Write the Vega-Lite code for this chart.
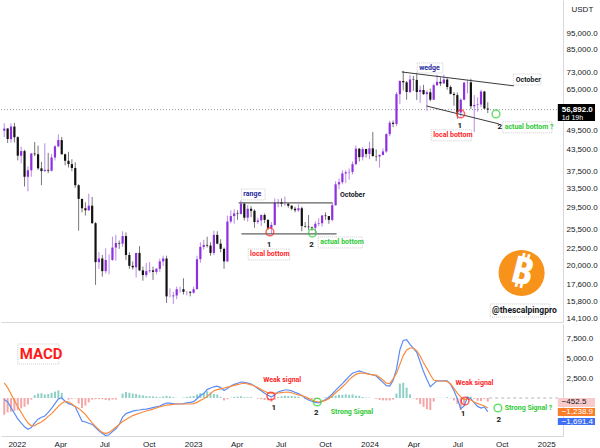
{
"$schema": "https://vega.github.io/schema/vega-lite/v6.json",
"padding": 0,
"background": "white",
"spacing": 1,
"config": {"view": {"stroke": null}, "font": "Liberation Sans", "axis": {"labelFont": "Liberation Sans"}},
"datasets": {
"btc": [
{"d":"2021-12-06","o":49400,"h":51900,"l":47300,"c":50100,"m":-200,"s":1900,"hi":-2100},
{"d":"2021-12-13","o":50100,"h":50200,"l":45500,"c":46700,"m":-500,"s":1300,"hi":-1800},
{"d":"2021-12-20","o":46700,"h":51900,"l":45600,"c":50800,"m":-1200,"s":500,"hi":-1700},
{"d":"2021-12-27","o":50800,"h":52100,"l":45700,"c":47300,"m":-1900,"s":-300,"hi":-1600},
{"d":"2022-01-03","o":47300,"h":47600,"l":40500,"c":41800,"m":-2600,"s":-1100,"hi":-1500},
{"d":"2022-01-10","o":41800,"h":44400,"l":39700,"c":43100,"m":-3100,"s":-1800,"hi":-1300},
{"d":"2022-01-17","o":43100,"h":43500,"l":34000,"c":36300,"m":-3600,"s":-2500,"hi":-1100},
{"d":"2022-01-24","o":36300,"h":38900,"l":32900,"c":37900,"m":-3900,"s":-3100,"hi":-800},
{"d":"2022-01-31","o":37900,"h":42600,"l":36300,"c":42400,"m":-3700,"s":-3500,"hi":-200},
{"d":"2022-02-07","o":42400,"h":45800,"l":41700,"c":42200,"m":-3100,"s":-3450,"hi":350},
{"d":"2022-02-14","o":42200,"h":44700,"l":38000,"c":38400,"m":-2650,"s":-3200,"hi":550},
{"d":"2022-02-21","o":38400,"h":40100,"l":34300,"c":37700,"m":-2400,"s":-3000,"hi":600},
{"d":"2022-02-28","o":37700,"h":45400,"l":37500,"c":38000,"m":-2250,"s":-2700,"hi":450},
{"d":"2022-03-07","o":38000,"h":42600,"l":37200,"c":37800,"m":-1800,"s":-2300,"hi":500},
{"d":"2022-03-14","o":37800,"h":42300,"l":37600,"c":41300,"m":-1300,"s":-1950,"hi":650},
{"d":"2022-03-21","o":41300,"h":44800,"l":40500,"c":44500,"m":-700,"s":-1500,"hi":800},
{"d":"2022-03-28","o":44500,"h":48200,"l":44200,"c":46400,"m":-100,"s":-1050,"hi":950},
{"d":"2022-04-04","o":46400,"h":47400,"l":42100,"c":42200,"m":0,"s":-650,"hi":650},
{"d":"2022-04-11","o":42200,"h":42400,"l":39200,"c":40400,"m":-400,"s":-420,"hi":20},
{"d":"2022-04-18","o":40400,"h":42900,"l":38600,"c":39500,"m":-700,"s":-500,"hi":-200},
{"d":"2022-04-25","o":39500,"h":40800,"l":37700,"c":38500,"m":-850,"s":-750,"hi":-100},
{"d":"2022-05-02","o":38500,"h":40000,"l":33700,"c":34300,"m":-1100,"s":-1050,"hi":-50},
{"d":"2022-05-09","o":34300,"h":34500,"l":25300,"c":31300,"m":-2000,"s":-1300,"hi":-700},
{"d":"2022-05-16","o":31300,"h":31300,"l":28600,"c":29400,"m":-2900,"s":-1650,"hi":-1250},
{"d":"2022-05-23","o":29400,"h":30600,"l":28000,"c":29000,"m":-3000,"s":-2050,"hi":-950},
{"d":"2022-05-30","o":29000,"h":32400,"l":28900,"c":29900,"m":-3150,"s":-2600,"hi":-550},
{"d":"2022-06-06","o":29900,"h":31700,"l":26500,"c":26600,"m":-3300,"s":-3100,"hi":-200},
{"d":"2022-06-13","o":26600,"h":26800,"l":17600,"c":20500,"m":-3700,"s":-3550,"hi":-150},
{"d":"2022-06-20","o":20500,"h":21900,"l":19600,"c":21000,"m":-4100,"s":-3950,"hi":-150},
{"d":"2022-06-27","o":21000,"h":21500,"l":18600,"c":19300,"m":-4450,"s":-4300,"hi":-150},
{"d":"2022-07-04","o":19300,"h":22500,"l":19000,"c":20800,"m":-4700,"s":-4450,"hi":-250},
{"d":"2022-07-11","o":20800,"h":21600,"l":18900,"c":20800,"m":-4600,"s":-4300,"hi":-300},
{"d":"2022-07-18","o":20800,"h":24300,"l":20700,"c":22600,"m":-4200,"s":-4000,"hi":-200},
{"d":"2022-07-25","o":22600,"h":24600,"l":20700,"c":23300,"m":-3850,"s":-3650,"hi":-200},
{"d":"2022-08-01","o":23300,"h":23700,"l":22400,"c":23200,"m":-3300,"s":-3300,"hi":0},
{"d":"2022-08-08","o":23200,"h":25200,"l":22700,"c":24400,"m":-2400,"s":-2950,"hi":550},
{"d":"2022-08-15","o":24400,"h":25000,"l":20800,"c":21500,"m":-1950,"s":-2700,"hi":750},
{"d":"2022-08-22","o":21500,"h":21900,"l":19600,"c":20000,"m":-1800,"s":-2450,"hi":650},
{"d":"2022-08-29","o":20000,"h":20600,"l":19500,"c":19800,"m":-1650,"s":-2200,"hi":550},
{"d":"2022-09-05","o":19800,"h":21800,"l":18500,"c":21800,"m":-1550,"s":-2050,"hi":500},
{"d":"2022-09-12","o":21800,"h":22800,"l":19300,"c":19400,"m":-1500,"s":-1900,"hi":400},
{"d":"2022-09-19","o":19400,"h":19900,"l":18100,"c":18800,"m":-1420,"s":-1750,"hi":330},
{"d":"2022-09-26","o":18800,"h":20400,"l":18500,"c":19300,"m":-1380,"s":-1620,"hi":240},
{"d":"2022-10-03","o":19300,"h":20500,"l":19100,"c":19400,"m":-1300,"s":-1520,"hi":220},
{"d":"2022-10-10","o":19400,"h":19900,"l":18200,"c":19200,"m":-1200,"s":-1400,"hi":200},
{"d":"2022-10-17","o":19200,"h":19700,"l":18900,"c":19600,"m":-1100,"s":-1250,"hi":150},
{"d":"2022-10-24","o":19600,"h":21000,"l":19200,"c":20600,"m":-1000,"s":-1100,"hi":100},
{"d":"2022-10-31","o":20600,"h":21400,"l":20000,"c":21000,"m":-800,"s":-1000,"hi":200},
{"d":"2022-11-07","o":21000,"h":21400,"l":15600,"c":16300,"m":-625,"s":-900,"hi":275},
{"d":"2022-11-14","o":16300,"h":17200,"l":16200,"c":16300,"m":-650,"s":-850,"hi":200},
{"d":"2022-11-21","o":16300,"h":16800,"l":15500,"c":16400,"m":-700,"s":-800,"hi":100},
{"d":"2022-11-28","o":16400,"h":17400,"l":16000,"c":17100,"m":-730,"s":-750,"hi":20},
{"d":"2022-12-05","o":17100,"h":17400,"l":16700,"c":17100,"m":-750,"s":-750,"hi":0},
{"d":"2022-12-12","o":17100,"h":18400,"l":16500,"c":16800,"m":-700,"s":-750,"hi":50},
{"d":"2022-12-19","o":16800,"h":16900,"l":16400,"c":16800,"m":-620,"s":-750,"hi":130},
{"d":"2022-12-26","o":16800,"h":16900,"l":16300,"c":16700,"m":-550,"s":-750,"hi":200},
{"d":"2023-01-02","o":16700,"h":17400,"l":16600,"c":17100,"m":-450,"s":-700,"hi":250},
{"d":"2023-01-09","o":17100,"h":21400,"l":17100,"c":20900,"m":-100,"s":-550,"hi":450},
{"d":"2023-01-16","o":20900,"h":23400,"l":20400,"c":22700,"m":300,"s":-300,"hi":600},
{"d":"2023-01-23","o":22700,"h":23800,"l":22300,"c":23000,"m":550,"s":-100,"hi":650},
{"d":"2023-01-30","o":23000,"h":24300,"l":22600,"c":22900,"m":1050,"s":200,"hi":850},
{"d":"2023-02-06","o":22900,"h":23400,"l":21400,"c":21800,"m":1250,"s":550,"hi":700},
{"d":"2023-02-13","o":21800,"h":25300,"l":21500,"c":24600,"m":1400,"s":900,"hi":500},
{"d":"2023-02-20","o":24600,"h":25200,"l":23100,"c":23200,"m":1480,"s":1050,"hi":430},
{"d":"2023-02-27","o":23200,"h":23900,"l":21900,"c":22400,"m":1300,"s":1150,"hi":150},
{"d":"2023-03-06","o":22400,"h":22600,"l":19600,"c":20600,"m":950,"s":1250,"hi":-300},
{"d":"2023-03-13","o":20600,"h":28000,"l":20500,"c":26900,"m":1200,"s":1350,"hi":-150},
{"d":"2023-03-20","o":26900,"h":29000,"l":26600,"c":27900,"m":1500,"s":1450,"hi":50},
{"d":"2023-03-27","o":27900,"h":29200,"l":26500,"c":28400,"m":1700,"s":1580,"hi":120},
{"d":"2023-04-03","o":28400,"h":29000,"l":27200,"c":28300,"m":1850,"s":1680,"hi":170},
{"d":"2023-04-10","o":28300,"h":31000,"l":28200,"c":30300,"m":2000,"s":1780,"hi":220},
{"d":"2023-04-17","o":30300,"h":30500,"l":27100,"c":27600,"m":1950,"s":1850,"hi":100},
{"d":"2023-04-24","o":27600,"h":30000,"l":26900,"c":29300,"m":1850,"s":1750,"hi":100},
{"d":"2023-05-01","o":29300,"h":29800,"l":27700,"c":28900,"m":1750,"s":1650,"hi":100},
{"d":"2023-05-08","o":28900,"h":29200,"l":25800,"c":26800,"m":1500,"s":1500,"hi":0},
{"d":"2023-05-15","o":26800,"h":27600,"l":26500,"c":27100,"m":1200,"s":1300,"hi":-100},
{"d":"2023-05-22","o":27100,"h":28200,"l":26100,"c":28100,"m":900,"s":1050,"hi":-150},
{"d":"2023-05-29","o":28100,"h":28400,"l":26600,"c":27200,"m":600,"s":850,"hi":-250},
{"d":"2023-06-05","o":27200,"h":27300,"l":25400,"c":25800,"m":350,"s":650,"hi":-300},
{"d":"2023-06-12","o":25800,"h":26800,"l":24800,"c":26300,"m":125,"s":600,"hi":-475},
{"d":"2023-06-19","o":26300,"h":31400,"l":26200,"c":30500,"m":400,"s":600,"hi":-200},
{"d":"2023-06-26","o":30500,"h":31300,"l":29600,"c":30600,"m":750,"s":625,"hi":125},
{"d":"2023-07-03","o":30600,"h":31400,"l":29700,"c":30300,"m":900,"s":680,"hi":220},
{"d":"2023-07-10","o":30300,"h":31800,"l":29900,"c":30300,"m":1000,"s":720,"hi":280},
{"d":"2023-07-17","o":30300,"h":30400,"l":29500,"c":29900,"m":1000,"s":750,"hi":250},
{"d":"2023-07-24","o":29900,"h":30000,"l":29000,"c":29300,"m":900,"s":650,"hi":250},
{"d":"2023-07-31","o":29300,"h":29700,"l":28600,"c":29000,"m":700,"s":500,"hi":200},
{"d":"2023-08-07","o":29000,"h":30200,"l":28700,"c":29400,"m":550,"s":380,"hi":170},
{"d":"2023-08-14","o":29400,"h":29700,"l":25200,"c":26100,"m":300,"s":300,"hi":0},
{"d":"2023-08-21","o":26100,"h":26800,"l":25800,"c":26000,"m":0,"s":150,"hi":-150},
{"d":"2023-08-28","o":26000,"h":28100,"l":25400,"c":25900,"m":-250,"s":-50,"hi":-200},
{"d":"2023-09-04","o":25900,"h":26000,"l":25300,"c":25800,"m":-400,"s":-250,"hi":-150},
{"d":"2023-09-11","o":25800,"h":26900,"l":24900,"c":26500,"m":-550,"s":-420,"hi":-130},
{"d":"2023-09-18","o":26500,"h":27500,"l":26100,"c":26600,"m":-600,"s":-500,"hi":-100},
{"d":"2023-09-25","o":26600,"h":28100,"l":26000,"c":28000,"m":-400,"s":-420,"hi":20},
{"d":"2023-10-02","o":28000,"h":28600,"l":27200,"c":27900,"m":-200,"s":-300,"hi":100},
{"d":"2023-10-09","o":27900,"h":27900,"l":26500,"c":27200,"m":100,"s":-80,"hi":180},
{"d":"2023-10-16","o":27200,"h":30400,"l":26900,"c":30000,"m":500,"s":250,"hi":250},
{"d":"2023-10-23","o":30000,"h":35200,"l":29900,"c":34500,"m":950,"s":650,"hi":300},
{"d":"2023-10-30","o":34500,"h":35900,"l":33400,"c":35000,"m":1400,"s":1000,"hi":400},
{"d":"2023-11-06","o":35000,"h":37900,"l":34500,"c":37100,"m":1800,"s":1400,"hi":400},
{"d":"2023-11-13","o":37100,"h":37900,"l":34800,"c":37400,"m":2250,"s":1800,"hi":450},
{"d":"2023-11-20","o":37400,"h":38400,"l":35600,"c":37500,"m":2700,"s":2300,"hi":400},
{"d":"2023-11-27","o":37500,"h":40200,"l":36900,"c":39500,"m":3100,"s":2650,"hi":450},
{"d":"2023-12-04","o":39500,"h":44700,"l":39200,"c":43800,"m":3250,"s":2950,"hi":300},
{"d":"2023-12-11","o":43800,"h":44000,"l":40200,"c":41400,"m":3375,"s":3100,"hi":275},
{"d":"2023-12-18","o":41400,"h":44300,"l":40500,"c":43700,"m":3250,"s":3125,"hi":125},
{"d":"2023-12-25","o":43700,"h":43800,"l":41300,"c":42300,"m":3100,"s":3050,"hi":50},
{"d":"2024-01-01","o":42300,"h":45900,"l":40800,"c":43900,"m":3000,"s":2950,"hi":50},
{"d":"2024-01-08","o":43900,"h":49000,"l":41500,"c":41700,"m":2900,"s":2900,"hi":0},
{"d":"2024-01-15","o":41700,"h":43600,"l":40300,"c":41600,"m":2750,"s":2850,"hi":-100},
{"d":"2024-01-22","o":41600,"h":42200,"l":38600,"c":42000,"m":2350,"s":2600,"hi":-250},
{"d":"2024-01-29","o":42000,"h":43900,"l":41900,"c":43000,"m":1950,"s":2250,"hi":-300},
{"d":"2024-02-05","o":43000,"h":48600,"l":42600,"c":48300,"m":1550,"s":1850,"hi":-300},
{"d":"2024-02-12","o":48300,"h":52800,"l":47600,"c":52100,"m":1500,"s":1800,"hi":-300},
{"d":"2024-02-19","o":52100,"h":52900,"l":50600,"c":51700,"m":2200,"s":2400,"hi":-200},
{"d":"2024-02-26","o":51700,"h":64000,"l":50900,"c":63100,"m":3600,"s":3050,"hi":550},
{"d":"2024-03-04","o":63100,"h":69200,"l":59000,"c":68900,"m":6000,"s":4200,"hi":1800},
{"d":"2024-03-11","o":68900,"h":73800,"l":64700,"c":68300,"m":7200,"s":5300,"hi":1900},
{"d":"2024-03-18","o":68300,"h":68900,"l":60800,"c":64000,"m":7300,"s":6000,"hi":1300},
{"d":"2024-03-25","o":64000,"h":71700,"l":63600,"c":69600,"m":6700,"s":6250,"hi":450},
{"d":"2024-04-01","o":69600,"h":71300,"l":64500,"c":69400,"m":6200,"s":6250,"hi":-50},
{"d":"2024-04-08","o":69400,"h":72800,"l":60700,"c":64000,"m":5700,"s":5900,"hi":-200},
{"d":"2024-04-15","o":64000,"h":66800,"l":59600,"c":64900,"m":4500,"s":5250,"hi":-750},
{"d":"2024-04-22","o":64900,"h":67200,"l":62800,"c":63100,"m":3300,"s":4400,"hi":-1100},
{"d":"2024-04-29","o":63100,"h":64700,"l":56500,"c":63900,"m":2300,"s":3700,"hi":-1400},
{"d":"2024-05-06","o":63900,"h":65500,"l":60200,"c":60800,"m":1400,"s":2900,"hi":-1500},
{"d":"2024-05-13","o":60800,"h":67700,"l":60700,"c":67000,"m":1800,"s":2250,"hi":-450},
{"d":"2024-05-20","o":67000,"h":71900,"l":66600,"c":68500,"m":2150,"s":2125,"hi":25},
{"d":"2024-05-27","o":68500,"h":70600,"l":66600,"c":67800,"m":2150,"s":2125,"hi":25},
{"d":"2024-06-03","o":67800,"h":71900,"l":67600,"c":69600,"m":2150,"s":2125,"hi":25},
{"d":"2024-06-10","o":69600,"h":70200,"l":65000,"c":66200,"m":2150,"s":2050,"hi":100},
{"d":"2024-06-17","o":66200,"h":66900,"l":63000,"c":63200,"m":1700,"s":1750,"hi":-50},
{"d":"2024-06-24","o":63200,"h":64000,"l":58400,"c":62700,"m":900,"s":1200,"hi":-300},
{"d":"2024-07-01","o":62700,"h":63800,"l":53500,"c":55800,"m":-100,"s":600,"hi":-700},
{"d":"2024-07-08","o":55800,"h":61400,"l":54300,"c":60800,"m":-1350,"s":150,"hi":-1500},
{"d":"2024-07-15","o":60800,"h":68300,"l":60600,"c":68200,"m":-1000,"s":-200,"hi":-800},
{"d":"2024-07-22","o":68200,"h":69400,"l":63400,"c":68300,"m":100,"s":-100,"hi":200},
{"d":"2024-07-29","o":68300,"h":70000,"l":57100,"c":58200,"m":-100,"s":-250,"hi":150},
{"d":"2024-08-05","o":58200,"h":62700,"l":49000,"c":58700,"m":-600,"s":-500,"hi":-100},
{"d":"2024-08-12","o":58700,"h":61800,"l":56100,"c":58900,"m":-1050,"s":-700,"hi":-350},
{"d":"2024-08-19","o":58900,"h":65000,"l":57800,"c":64200,"m":-1250,"s":-850,"hi":-400},
{"d":"2024-08-26","o":64200,"h":64500,"l":57200,"c":57300,"m":-1125,"s":-1000,"hi":-125},
{"d":"2024-09-02","o":57300,"h":59800,"l":55600,"c":56892,"m":-1691.4,"s":-1238.9,"hi":-452.5}
]
},
"vconcat": [
{
"width": 562,
"height": 322,
"layer": [
{"data": {"values": [{"p": 56892}]}, "mark": {"type": "rule", "color": "#9598a1", "strokeDash": [1, 2], "strokeWidth": 1}, "encoding": {"y": {"field": "p", "type": "quantitative", "scale": {"type": "log"}}}},
{"data": {"name": "btc"}, "mark": {"type": "rule", "strokeWidth": 1, "clip": true},
 "encoding": {
  "x": {"field": "d", "type": "temporal", "scale": {"domain": [{"year": 2021, "month": 12, "date": 9, "hours": 15}, {"year": 2025, "month": 1, "date": 25, "hours": 9}], "nice": false},
        "axis": {"title": null, "labels": false, "ticks": false, "grid": false, "domain": true, "domainColor": "#d6d8de"}},
  "y": {"field": "l", "type": "quantitative", "scale": {"type": "log", "domain": [13730, 118500], "nice": false},
        "axis": {"orient": "right", "title": "USDT", "titleAngle": 0, "titleAlign": "left", "titleBaseline": "middle", "titleX": 8, "titleY": 9, "titleFontSize": 8, "titleFontWeight": "normal", "titleColor": "#131722", "values": [95000, 85000, 73000, 65000, 49500, 43500, 37500, 33500, 29500, 25500, 22500, 20000, 17600, 15800, 14100], "format": ",.1f", "labelFontSize": 8, "labelColor": "#131722", "ticks": false, "labelPadding": 3, "grid": false, "domainColor": "#d6d8de"}},
  "y2": {"field": "h"},
  "color": {"condition": {"test": "datum.c >= datum.o", "value": "#b98ae8"}, "value": "#777777"}
 }},
{"data": {"name": "btc"}, "mark": {"type": "bar", "width": 2.2, "clip": true},
 "encoding": {
  "x": {"field": "d", "type": "temporal"},
  "y": {"field": "o", "type": "quantitative", "scale": {"type": "log"}},
  "y2": {"field": "c"},
  "color": {"condition": {"test": "datum.c >= datum.o", "value": "#8e2fe0"}, "value": "#121212"}
 }},
{"data": {"values": [
  {"d1": "2023-04-05", "d2": "2023-10-17", "p1": 30470, "p2": 30470},
  {"d1": "2023-04-11", "d2": "2023-10-25", "p1": 24760, "p2": 24760},
  {"d1": "2024-03-08", "d2": "2024-10-26", "p1": 73200, "p2": 66700},
  {"d1": "2024-04-28", "d2": "2024-09-25", "p1": 58300, "p2": 51700}]},
 "mark": {"type": "rule", "color": "#3a3a3a", "strokeWidth": 1},
 "encoding": {"x": {"field": "d1", "type": "temporal"}, "x2": {"field": "d2"}, "y": {"field": "p1", "type": "quantitative", "scale": {"type": "log"}}, "y2": {"field": "p2"}}},
{"data": {"values": [
  {"d1": "2023-04-11", "d2": "2023-05-30", "p1": 33460, "p2": 31090},
  {"d1": "2023-04-25", "d2": "2023-07-20", "p1": 22380, "p2": 20790},
  {"d1": "2023-09-17", "d2": "2023-12-17", "p1": 24270, "p2": 22540},
  {"d1": "2024-04-09", "d2": "2024-06-01", "p1": 77750, "p2": 72720},
  {"d1": "2024-10-25", "d2": "2024-12-21", "p1": 72230, "p2": 67100},
  {"d1": "2024-05-08", "d2": "2024-07-30", "p1": 49700, "p2": 46170},
  {"d1": "2024-10-03", "d2": "2025-01-13", "p1": 52440, "p2": 48710},
  {"d1": "2024-09-07", "d2": "2025-01-09", "p1": 15490, "p2": 14200}]},
 "mark": {"type": "rect", "filled": false, "color": "#c2c2c2", "strokeDash": [1, 1], "strokeWidth": 0.8},
 "encoding": {"x": {"field": "d1", "type": "temporal"}, "x2": {"field": "d2"}, "y": {"field": "p1", "type": "quantitative", "scale": {"type": "log"}}, "y2": {"field": "p2"}}},
{"data": {"values": [{"d": "2023-06-09", "p": 25090}, {"d": "2024-07-08", "p": 55260}]},
 "mark": {"type": "point", "shape": "circle", "filled": false, "color": "#ff1f1f", "strokeWidth": 1.5, "size": 60},
 "encoding": {"x": {"field": "d", "type": "temporal"}, "y": {"field": "p", "type": "quantitative", "scale": {"type": "log"}}}},
{"data": {"values": [{"d": "2023-09-05", "p": 24920}, {"d": "2024-09-19", "p": 55260}]},
 "mark": {"type": "point", "shape": "circle", "filled": false, "color": "#28d22e", "strokeWidth": 1.5, "size": 60},
 "encoding": {"x": {"field": "d", "type": "temporal"}, "y": {"field": "p", "type": "quantitative", "scale": {"type": "log"}}}},
{"data": {"values": [{"d": "2023-04-15", "p": 32350, "t": "range"}, {"d": "2024-04-13", "p": 75200, "t": "wedge"}]},
 "mark": {"type": "text", "color": "#1f2a9c", "font": "Roboto, Liberation Sans, sans-serif", "fontWeight": "bold", "fontSize": 7, "align": "left", "baseline": "middle"},
 "encoding": {"x": {"field": "d", "type": "temporal"}, "y": {"field": "p", "type": "quantitative", "scale": {"type": "log"}}, "text": {"field": "t"}}},
{"data": {"values": [{"d": "2023-11-01", "p": 32150, "t": "October"}, {"d": "2024-10-30", "p": 69600, "t": "October"}]},
 "mark": {"type": "text", "color": "#131722", "font": "Roboto, Liberation Sans, sans-serif", "fontWeight": "bold", "fontSize": 7, "align": "left", "baseline": "middle"},
 "encoding": {"x": {"field": "d", "type": "temporal"}, "y": {"field": "p", "type": "quantitative", "scale": {"type": "log"}}, "text": {"field": "t"}}},
{"data": {"values": [{"d": "2023-04-29", "p": 21580, "t": "local bottom"}, {"d": "2024-05-12", "p": 47870, "t": "local bottom"}]},
 "mark": {"type": "text", "color": "#ff1f1f", "font": "Roboto, Liberation Sans, sans-serif", "fontWeight": "bold", "fontSize": 7, "align": "left", "baseline": "middle"},
 "encoding": {"x": {"field": "d", "type": "temporal"}, "y": {"field": "p", "type": "quantitative", "scale": {"type": "log"}}, "text": {"field": "t"}}},
{"data": {"values": [{"d": "2023-09-21", "p": 23400, "t": "actual bottom"}, {"d": "2024-10-07", "p": 50480, "t": "actual bottom ?"}]},
 "mark": {"type": "text", "color": "#2ec934", "font": "Roboto, Liberation Sans, sans-serif", "fontWeight": "bold", "fontSize": 7, "align": "left", "baseline": "middle"},
 "encoding": {"x": {"field": "d", "type": "temporal"}, "y": {"field": "p", "type": "quantitative", "scale": {"type": "log"}}, "text": {"field": "t"}}},
{"data": {"values": [{"d": "2023-06-07", "p": 23000, "t": "1"}, {"d": "2023-09-03", "p": 23000, "t": "2"}, {"d": "2024-07-06", "p": 51000, "t": "1"}, {"d": "2024-09-27", "p": 50650, "t": "2"}]},
 "mark": {"type": "text", "color": "#131722", "font": "Roboto, Liberation Sans, sans-serif", "fontWeight": "bold", "fontSize": 8, "baseline": "middle"},
 "encoding": {"x": {"field": "d", "type": "temporal"}, "y": {"field": "p", "type": "quantitative", "scale": {"type": "log"}}, "text": {"field": "t"}}},
{"data": {"values": [{"d": "2024-11-11", "p": 19070}]},
 "mark": {"type": "point", "shape": "circle", "filled": true, "color": "#f7931a", "opacity": 1, "size": 2124},
 "encoding": {"x": {"field": "d", "type": "temporal"}, "y": {"field": "p", "type": "quantitative", "scale": {"type": "log"}}}},
{"data": {"values": [{"d": "2024-11-11", "p": 19070, "t": "₿"}]},
 "mark": {"type": "text", "color": "white", "font": "Noto Sans, DejaVu Sans, sans-serif", "fontWeight": "bold", "fontSize": 38, "angle": 14, "baseline": "middle"},
 "encoding": {"x": {"field": "d", "type": "temporal"}, "y": {"field": "p", "type": "quantitative", "scale": {"type": "log"}}, "text": {"field": "t"}}},
{"data": {"values": [{"d": "2024-09-11", "p": 14830, "t": "@thescalpingpro"}]},
 "mark": {"type": "text", "color": "#131722", "font": "Roboto, Liberation Sans, sans-serif", "fontWeight": "bold", "fontSize": 8.5, "align": "left", "baseline": "middle"},
 "encoding": {"x": {"field": "d", "type": "temporal"}, "y": {"field": "p", "type": "quantitative", "scale": {"type": "log"}}, "text": {"field": "t"}}},
{"data": {"values": [{"d1": "2025-01-25", "d2": "2025-04-12", "p1": 59100, "p2": 52750}]},
 "mark": {"type": "rect", "color": "#000000"},
 "encoding": {"x": {"field": "d1", "type": "temporal"}, "x2": {"field": "d2"}, "y": {"field": "p1", "type": "quantitative", "scale": {"type": "log"}}, "y2": {"field": "p2"}}},
{"data": {"values": [{"d": "2025-02-02", "p": 56892, "t": "56,892.0"}]},
 "mark": {"type": "text", "color": "white", "fontWeight": "bold", "fontSize": 8, "align": "left", "baseline": "middle"},
 "encoding": {"x": {"field": "d", "type": "temporal"}, "y": {"field": "p", "type": "quantitative", "scale": {"type": "log"}}, "text": {"field": "t"}}},
{"data": {"values": [{"d": "2025-02-02", "p": 53800, "t": "1d 19h"}]},
 "mark": {"type": "text", "color": "white", "fontSize": 7, "align": "left", "baseline": "middle"},
 "encoding": {"x": {"field": "d", "type": "temporal"}, "y": {"field": "p", "type": "quantitative", "scale": {"type": "log"}}, "text": {"field": "t"}}}
]
},
{
"width": 562,
"height": 112,
"layer": [
{"data": {"values": [{"d1": "2024-09-05", "d2": "2025-01-25", "v": 0}]},
 "mark": {"type": "rule", "color": "#b2b5be", "strokeDash": [3, 3], "strokeWidth": 1},
 "encoding": {"x": {"field": "d1", "type": "temporal"}, "x2": {"field": "d2"}, "y": {"field": "v", "type": "quantitative"}}},
{"data": {"name": "btc"}, "mark": {"type": "bar", "width": 2, "clip": true},
 "encoding": {
  "x": {"field": "d", "type": "temporal", "scale": {"domain": [{"year": 2021, "month": 12, "date": 9, "hours": 15}, {"year": 2025, "month": 1, "date": 25, "hours": 9}], "nice": false},
        "axis": {"title": null, "values": [{"year": 2022, "month": 1, "date": 1}, {"year": 2022, "month": 4, "date": 1}, {"year": 2022, "month": 7, "date": 1}, {"year": 2022, "month": 10, "date": 1}, {"year": 2023, "month": 1, "date": 1}, {"year": 2023, "month": 4, "date": 1}, {"year": 2023, "month": 7, "date": 1}, {"year": 2023, "month": 10, "date": 1}, {"year": 2024, "month": 1, "date": 1}, {"year": 2024, "month": 4, "date": 1}, {"year": 2024, "month": 7, "date": 1}, {"year": 2024, "month": 10, "date": 1}, {"year": 2025, "month": 1, "date": 1}],
                 "labelExpr": "month(datum.value) == 0 ? timeFormat(datum.value, '%Y') : timeFormat(datum.value, '%b')", "labelFontSize": 8, "labelColor": "#131722", "ticks": false, "labelPadding": 4, "grid": false, "domainColor": "#d6d8de", "labelFlush": false, "labelOverlap": false}},
  "y": {"field": "hi", "type": "quantitative", "scale": {"domain": [-4750, 9250], "nice": false, "zero": false},
        "axis": {"orient": "right", "title": null, "values": [7500, 5000, 2500], "format": ",.1f", "labelFontSize": 8, "labelColor": "#131722", "ticks": false, "labelPadding": 3, "grid": false, "domainColor": "#d6d8de"}},
  "y2": {"datum": 0},
  "color": {"condition": {"test": "datum.hi >= 0", "value": "#8fd0c6"}, "value": "#f5a6a6"}
 }},
{"data": {"name": "btc"}, "mark": {"type": "line", "color": "#5b8cf5", "strokeWidth": 1.2, "clip": true},
 "encoding": {"x": {"field": "d", "type": "temporal"}, "y": {"field": "m", "type": "quantitative"}}},
{"data": {"name": "btc"}, "mark": {"type": "line", "color": "#f98c3e", "strokeWidth": 1.2, "clip": true},
 "encoding": {"x": {"field": "d", "type": "temporal"}, "y": {"field": "s", "type": "quantitative"}}},
{"data": {"values": [{"d1": "2022-01-03", "d2": "2022-03-29", "v1": 6750, "v2": 4250}]},
 "mark": {"type": "rect", "filled": false, "color": "#c2c2c2", "strokeDash": [1, 1], "strokeWidth": 0.8},
 "encoding": {"x": {"field": "d1", "type": "temporal"}, "x2": {"field": "d2"}, "y": {"field": "v1", "type": "quantitative"}, "y2": {"field": "v2"}}},
{"data": {"values": [{"d": "2022-01-07", "v": 5500, "t": "MACD"}]},
 "mark": {"type": "text", "color": "#ff1a1a", "font": "Roboto, Liberation Sans, sans-serif", "fontWeight": "bold", "fontSize": 15, "align": "left", "baseline": "middle"},
 "encoding": {"x": {"field": "d", "type": "temporal"}, "y": {"field": "v", "type": "quantitative"}, "text": {"field": "t"}}},
{"data": {"values": [{"d": "2023-05-26", "v": 2250, "t": "Weak signal"}, {"d": "2024-06-27", "v": 1875, "t": "Weak signal"}]},
 "mark": {"type": "text", "color": "#ff1f1f", "font": "Roboto, Liberation Sans, sans-serif", "fontWeight": "bold", "fontSize": 7, "align": "left", "baseline": "middle"},
 "encoding": {"x": {"field": "d", "type": "temporal"}, "y": {"field": "v", "type": "quantitative"}, "text": {"field": "t"}}},
{"data": {"values": [{"d": "2023-10-13", "v": -1750, "t": "Strong Signal"}, {"d": "2024-10-07", "v": -1250, "t": "Strong Signal ?"}]},
 "mark": {"type": "text", "color": "#2ec934", "font": "Roboto, Liberation Sans, sans-serif", "fontWeight": "bold", "fontSize": 7, "align": "left", "baseline": "middle"},
 "encoding": {"x": {"field": "d", "type": "temporal"}, "y": {"field": "v", "type": "quantitative"}, "text": {"field": "t"}}},
{"data": {"values": [{"d": "2023-06-17", "v": -1250, "t": "1"}, {"d": "2023-09-13", "v": -1875, "t": "2"}, {"d": "2024-07-13", "v": -2000, "t": "1"}, {"d": "2024-09-25", "v": -2750, "t": "2"}]},
 "mark": {"type": "text", "color": "#131722", "font": "Roboto, Liberation Sans, sans-serif", "fontWeight": "bold", "fontSize": 8, "baseline": "middle"},
 "encoding": {"x": {"field": "d", "type": "temporal"}, "y": {"field": "v", "type": "quantitative"}, "text": {"field": "t"}}},
{"data": {"values": [{"d": "2023-06-11", "v": 250}, {"d": "2024-07-17", "v": -375}]},
 "mark": {"type": "point", "shape": "circle", "filled": false, "color": "#ff1f1f", "strokeWidth": 1.5, "size": 60},
 "encoding": {"x": {"field": "d", "type": "temporal"}, "y": {"field": "v", "type": "quantitative"}}},
{"data": {"values": [{"d": "2023-09-15", "v": -500}, {"d": "2024-09-23", "v": -1250}]},
 "mark": {"type": "point", "shape": "circle", "filled": false, "color": "#28d22e", "strokeWidth": 1.5, "size": 60},
 "encoding": {"x": {"field": "d", "type": "temporal"}, "y": {"field": "v", "type": "quantitative"}}},
{"data": {"values": [{"d1": "2025-01-25", "d2": "2025-04-12", "v1": 0, "v2": -1125}]},
 "mark": {"type": "rect", "color": "#f8caca"},
 "encoding": {"x": {"field": "d1", "type": "temporal"}, "x2": {"field": "d2"}, "y": {"field": "v1", "type": "quantitative"}, "y2": {"field": "v2"}}},
{"data": {"values": [{"d1": "2025-01-25", "d2": "2025-04-12", "v1": -1250, "v2": -2250}]},
 "mark": {"type": "rect", "color": "#fa7d2a"},
 "encoding": {"x": {"field": "d1", "type": "temporal"}, "x2": {"field": "d2"}, "y": {"field": "v1", "type": "quantitative"}, "y2": {"field": "v2"}}},
{"data": {"values": [{"d1": "2025-01-25", "d2": "2025-04-12", "v1": -2500, "v2": -3375}]},
 "mark": {"type": "rect", "color": "#3f6ff2"},
 "encoding": {"x": {"field": "d1", "type": "temporal"}, "x2": {"field": "d2"}, "y": {"field": "v1", "type": "quantitative"}, "y2": {"field": "v2"}}},
{"data": {"values": [{"d": "2025-02-02", "v": -560, "t": "−452.5"}]},
 "mark": {"type": "text", "color": "#131722", "fontSize": 8, "align": "left", "baseline": "middle"},
 "encoding": {"x": {"field": "d", "type": "temporal"}, "y": {"field": "v", "type": "quantitative"}, "text": {"field": "t"}}},
{"data": {"values": [{"d": "2025-02-02", "v": -1750, "t": "−1,238.9"}, {"d": "2025-02-02", "v": -2940, "t": "−1,691.4"}]},
 "mark": {"type": "text", "color": "white", "fontSize": 8, "align": "left", "baseline": "middle"},
 "encoding": {"x": {"field": "d", "type": "temporal"}, "y": {"field": "v", "type": "quantitative"}, "text": {"field": "t"}}}
]
}
]
}
